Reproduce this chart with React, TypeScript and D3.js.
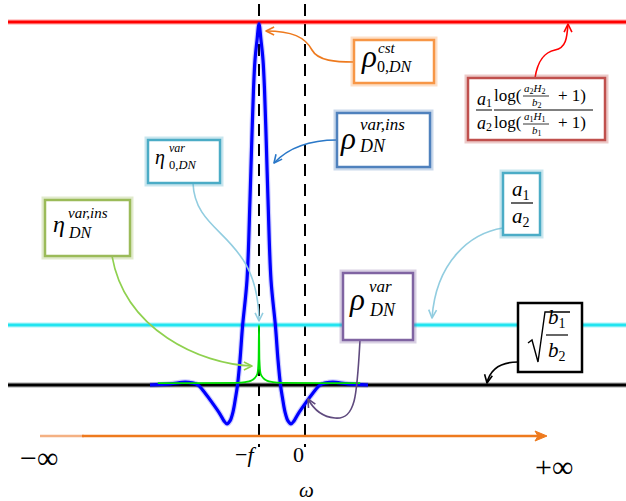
import React from 'react';
import * as d3 from 'd3';

// ---- data ----
// blue curve rho^{var,ins}_{DN}(omega)
const omegaBlue = [-3.37, -2.935, -2.609, -2.457, -2.326, -2.174, -2.0, -1.848, -1.761, -1.696, -1.63, -1.565, -1.511, -1.467, -1.413, -1.359, -1.261, -1.196, -1.163, -1.12, -1.087, -1.043, -1.0, -0.957, -0.913, -0.88, -0.837, -0.804, -0.739, -0.641, -0.587, -0.533, -0.489, -0.435, -0.37, -0.304, -0.239, -0.152, 0.0, 0.174, 0.326, 0.457, 0.609, 0.935, 1.37];
const rhoBlue = [0, 0.003, 0.008, 0.006, 0, -0.022, -0.052, -0.08, -0.099, -0.107, -0.099, -0.074, -0.036, 0, 0.069, 0.16, 0.289, 0.51, 0.647, 0.813, 0.895, 0.95, 0.995, 0.95, 0.895, 0.813, 0.647, 0.51, 0.289, 0.16, 0.069, 0, -0.036, -0.074, -0.099, -0.107, -0.099, -0.08, -0.052, -0.022, 0, 0.006, 0.008, 0.003, 0];
// green curve eta^{var,ins}_{DN}(omega)
const omegaGreen = [-3.2, -2.35, -1.5, -1.3, -1.17, -1.087, -1.033, -1.009, -1.0, -0.991, -0.967, -0.913, -0.83, -0.7, -0.5, 0.35, 1.2];
const etaGreen = [0.005, 0.005, 0.006, 0.008, 0.012, 0.02, 0.032, 0.07, 0.165, 0.07, 0.032, 0.02, 0.012, 0.008, 0.006, 0.005, 0.005];
// horizontal levels
const levelNames = ['logRatio', 'a1/a2', 'sqrt(b1/b2)'];
const levelValues = [1, 0.165, 0];
const levelColors = ['#ff0000', '#22e4f0', '#000000'];
// dashed markers on the omega axis
const markerOmega = [-1, 0];

const W = 626, H = 501;
const LEFT = 8, RIGHT = 626;
const xScale = d3.scaleLinear().domain([-1, 0]).range([259, 305]);
const yScale = d3.scaleLinear().domain([0, 1]).range([385, 22]);

const serif = "'Liberation Serif', 'DejaVu Serif', serif";

function Arrow({ d, tip, from, color, width = 1.6 }: any) {
  const ang = Math.atan2(tip[1] - from[1], tip[0] - from[0]);
  const L = 9, a = 0.45;
  const p1 = [tip[0] - L * Math.cos(ang - a), tip[1] - L * Math.sin(ang - a)];
  const p2 = [tip[0] - L * Math.cos(ang + a), tip[1] - L * Math.sin(ang + a)];
  return (
    <g>
      <path d={d} fill="none" stroke={color} strokeWidth={width} />
      <path d={`M${p1[0]},${p1[1]}L${tip[0]},${tip[1]}L${p2[0]},${p2[1]}`} fill="none" stroke={color} strokeWidth={width} strokeLinejoin="round" />
    </g>
  );
}

function Box({ x, y, w, h, color, glow = true, sw = 2.5 }: any) {
  return (
    <g>
      {glow && <rect x={x} y={y} width={w} height={h} fill="none" stroke={color} strokeOpacity={0.3} strokeWidth={7} />}
      <rect x={x} y={y} width={w} height={h} fill="#fff" stroke={color} strokeWidth={sw} />
    </g>
  );
}

function T({ x, y, size, children, italic = true, anchor = 'start' }: any) {
  return (
    <text x={x} y={y} fontSize={size} fontFamily={serif} fontStyle={italic ? 'italic' : 'normal'} textAnchor={anchor} fill="#000">
      {children}
    </text>
  );
}

export default function App() {
  const blueLine = d3.line<number>()
    .x((_, i) => xScale(omegaBlue[i]))
    .y((d) => yScale(d))
    .curve(d3.curveCatmullRom.alpha(0.5));
  const greenLine = d3.line<number>()
    .x((_, i) => xScale(omegaGreen[i]))
    .y((d) => yScale(d))
    .curve(d3.curveMonotoneX);
  const blueD = blueLine(rhoBlue) || '';
  const greenD = greenLine(etaGreen) || '';
  const axisY = 436;

  return (
    <div style={{ position: 'absolute', left: 0, top: 0 }}>
      <svg width={W} height={H} viewBox={`0 0 ${W} ${H}`} style={{ display: 'block', background: '#fff' }}>
        {/* dashed markers */}
        {markerOmega.map((m, i) => (
          <line key={i} x1={xScale(m)} x2={xScale(m)} y1={4} y2={447} stroke="#000" strokeWidth={2} strokeDasharray="12,8" />
        ))}
        {/* horizontal levels */}
        {levelValues.map((v, i) => (
          <g key={levelNames[i]}>
            <line x1={LEFT} x2={RIGHT} y1={yScale(v)} y2={yScale(v)} stroke={levelColors[i]} strokeOpacity={0.25} strokeWidth={5.5} />
            <line x1={LEFT} x2={RIGHT} y1={yScale(v)} y2={yScale(v)} stroke={levelColors[i]} strokeWidth={3} />
          </g>
        ))}
        {/* blue curve */}
        <path d={blueD} fill="none" stroke="#0000ff" strokeOpacity={0.2} strokeWidth={5.5} />
        <path d={blueD} fill="none" stroke="#0000ff" strokeWidth={3.2} strokeLinejoin="round" />
        {/* green curve */}
        <path d={greenD} fill="none" stroke="#00e000" strokeWidth={1.8} />

        {/* omega axis */}
        <line x1={40} x2={84} y1={axisY} y2={axisY} stroke="#f4b183" strokeWidth={2.5} />
        <line x1={82} x2={538} y1={axisY} y2={axisY} stroke="#ee7a1e" strokeWidth={2.5} />
        <path d={`M547,${axisY} L535,${axisY - 5} L538,${axisY} L535,${axisY + 5} Z`} fill="#ee7a1e" stroke="#ee7a1e" strokeWidth={1} />
        <T x={20} y={468} size={30} italic={false}>−∞</T>
        <text x={235} y={462} fontSize={22} fontFamily={serif}>−<tspan fontStyle="italic">f</tspan></text>
        <T x={293} y={462} size={22} italic={false}>0</T>
        <T x={535} y={477} size={30} italic={false}>+∞</T>
        <T x={299} y={497} size={21}>ω</T>

        {/* annotation arrows */}
        <Arrow d="M354,62 C336,62 318,61 312,50 C305,37 292,31 266,31" tip={[266, 31]} from={[280, 31]} color="#ee7a1e" />
        <Arrow d="M337,140 C312,140 290,146 274,163" tip={[274, 163]} from={[282, 153]} color="#2a78c8" />
        <Arrow d="M193,183 C195,238 258,232 259,321" tip={[259, 321]} from={[259, 305]} color="#92cde0" />
        <Arrow d="M112,256 C125,330 200,364 252,366" tip={[252, 366]} from={[240, 366]} color="#8fd14f" />
        <Arrow d="M360,340 C357,395 356,420 335,418 C323,417 314,410 308,399" tip={[308, 399]} from={[313, 408]} color="#5f4a7e" />
        <Arrow d="M535,78 C538,58 546,52 555,50 C566,48 567,38 568,24" tip={[568, 24]} from={[568, 36]} color="#ff0000" />
        <Arrow d="M503,228 C470,233 436,262 432,318" tip={[432, 318]} from={[433, 305]} color="#92cde0" />
        <Arrow d="M518,362 C500,362 490,370 487,383" tip={[487, 383]} from={[489, 372]} color="#000" />

        {/* orange box: rho^{cst}_{0,DN} */}
        <Box x={354} y={40} w={80} h={43} color="#f79646" />
        <T x={362} y={67} size={31}>ρ</T>
        <T x={378} y={53} size={15}>cst</T>
        <text x={377} y={72} fontSize={16} fontFamily={serif}>0,<tspan fontStyle="italic">DN</tspan></text>

        {/* blue box: rho^{var,ins}_{DN} */}
        <Box x={337} y={113} w={93} h={54} color="#4f81bd" />
        <T x={341} y={149} size={31}>ρ</T>
        <T x={360} y={130} size={17}>var,ins</T>
        <T x={360} y={152} size={18}>DN</T>

        {/* small cyan box: eta^{var}_{0,DN} */}
        <Box x={148} y={140} w={72} h={43} color="#4bacc6" />
        <T x={155} y={164} size={20}>η</T>
        <T x={169} y={152} size={12}>var</T>
        <text x={169} y={169} fontSize={12.5} fontFamily={serif}>0,<tspan fontStyle="italic">DN</tspan></text>

        {/* green box: eta^{var,ins}_{DN} */}
        <Box x={45} y={200} w={85} h={56} color="#9bbb59" />
        <T x={53} y={232} size={24}>η</T>
        <T x={68} y={218} size={15}>var,ins</T>
        <T x={69} y={238} size={16}>DN</T>

        {/* purple box: rho^{var}_{DN} */}
        <Box x={343} y={273} w={70} h={67} color="#8064a2" />
        <T x={350} y={310} size={31}>ρ</T>
        <T x={369} y={292} size={17}>var</T>
        <T x={370} y={316} size={18}>DN</T>

        {/* red box: log ratio */}
        <Box x={468} y={78} w={137} h={62} color="#c0504d" />
        <T x={477} y={105} size={18}>a<tspan fontSize={12} fontStyle="normal" dy={2}>1</tspan></T>
        <line x1={476} x2={492} y1={110} y2={110} stroke="#000" strokeWidth={1} />
        <T x={477} y={129} size={18}>a<tspan fontSize={12} fontStyle="normal" dy={2}>2</tspan></T>
        <T x={494} y={101} size={17} italic={false}>log(</T>
        <T x={524} y={92} size={11}>a<tspan fontSize={8} fontStyle="normal" dy={1.5}>2</tspan><tspan dy={-1.5}>H</tspan><tspan fontSize={8} fontStyle="normal" dy={1.5}>2</tspan></T>
        <line x1={523} x2={549} y1={96} y2={96} stroke="#000" strokeWidth={0.8} />
        <T x={532} y={106} size={11}>b<tspan fontSize={8} fontStyle="normal" dy={1.5}>2</tspan></T>
        <T x={558} y={101} size={17} italic={false}>+ 1)</T>
        <line x1={494} x2={593} y1={110} y2={110} stroke="#000" strokeWidth={1} />
        <T x={494} y={128} size={17} italic={false}>log(</T>
        <T x={524} y={120} size={11}>a<tspan fontSize={8} fontStyle="normal" dy={1.5}>1</tspan><tspan dy={-1.5}>H</tspan><tspan fontSize={8} fontStyle="normal" dy={1.5}>1</tspan></T>
        <line x1={523} x2={549} y1={124} y2={124} stroke="#000" strokeWidth={0.8} />
        <T x={532} y={134} size={11}>b<tspan fontSize={8} fontStyle="normal" dy={1.5}>1</tspan></T>
        <T x={558} y={128} size={17} italic={false}>+ 1)</T>

        {/* cyan right box: a1/a2 */}
        <Box x={503} y={173} w={37} h={62} color="#4bacc6" />
        <T x={512} y={196} size={21}>a<tspan fontSize={14} fontStyle="normal" dy={4}>1</tspan></T>
        <line x1={511} x2={533} y1={203} y2={203} stroke="#000" strokeWidth={1.2} />
        <T x={512} y={223} size={21}>a<tspan fontSize={14} fontStyle="normal" dy={4}>2</tspan></T>

        {/* black box: sqrt(b1/b2) */}
        <Box x={518} y={303} w={64} h={69} color="#000" glow={false} sw={2.5} />
        <path d="M528,343 L532,340 L538,362 L545,312 L570,312" fill="none" stroke="#000" strokeWidth={1.4} />
        <T x={548} y={324} size={21}>b<tspan fontSize={14} fontStyle="normal" dy={4}>1</tspan></T>
        <line x1={546} x2={568} y1={335} y2={335} stroke="#000" strokeWidth={1.2} />
        <T x={548} y={357} size={21}>b<tspan fontSize={14} fontStyle="normal" dy={4}>2</tspan></T>
      </svg>
    </div>
  );
}
